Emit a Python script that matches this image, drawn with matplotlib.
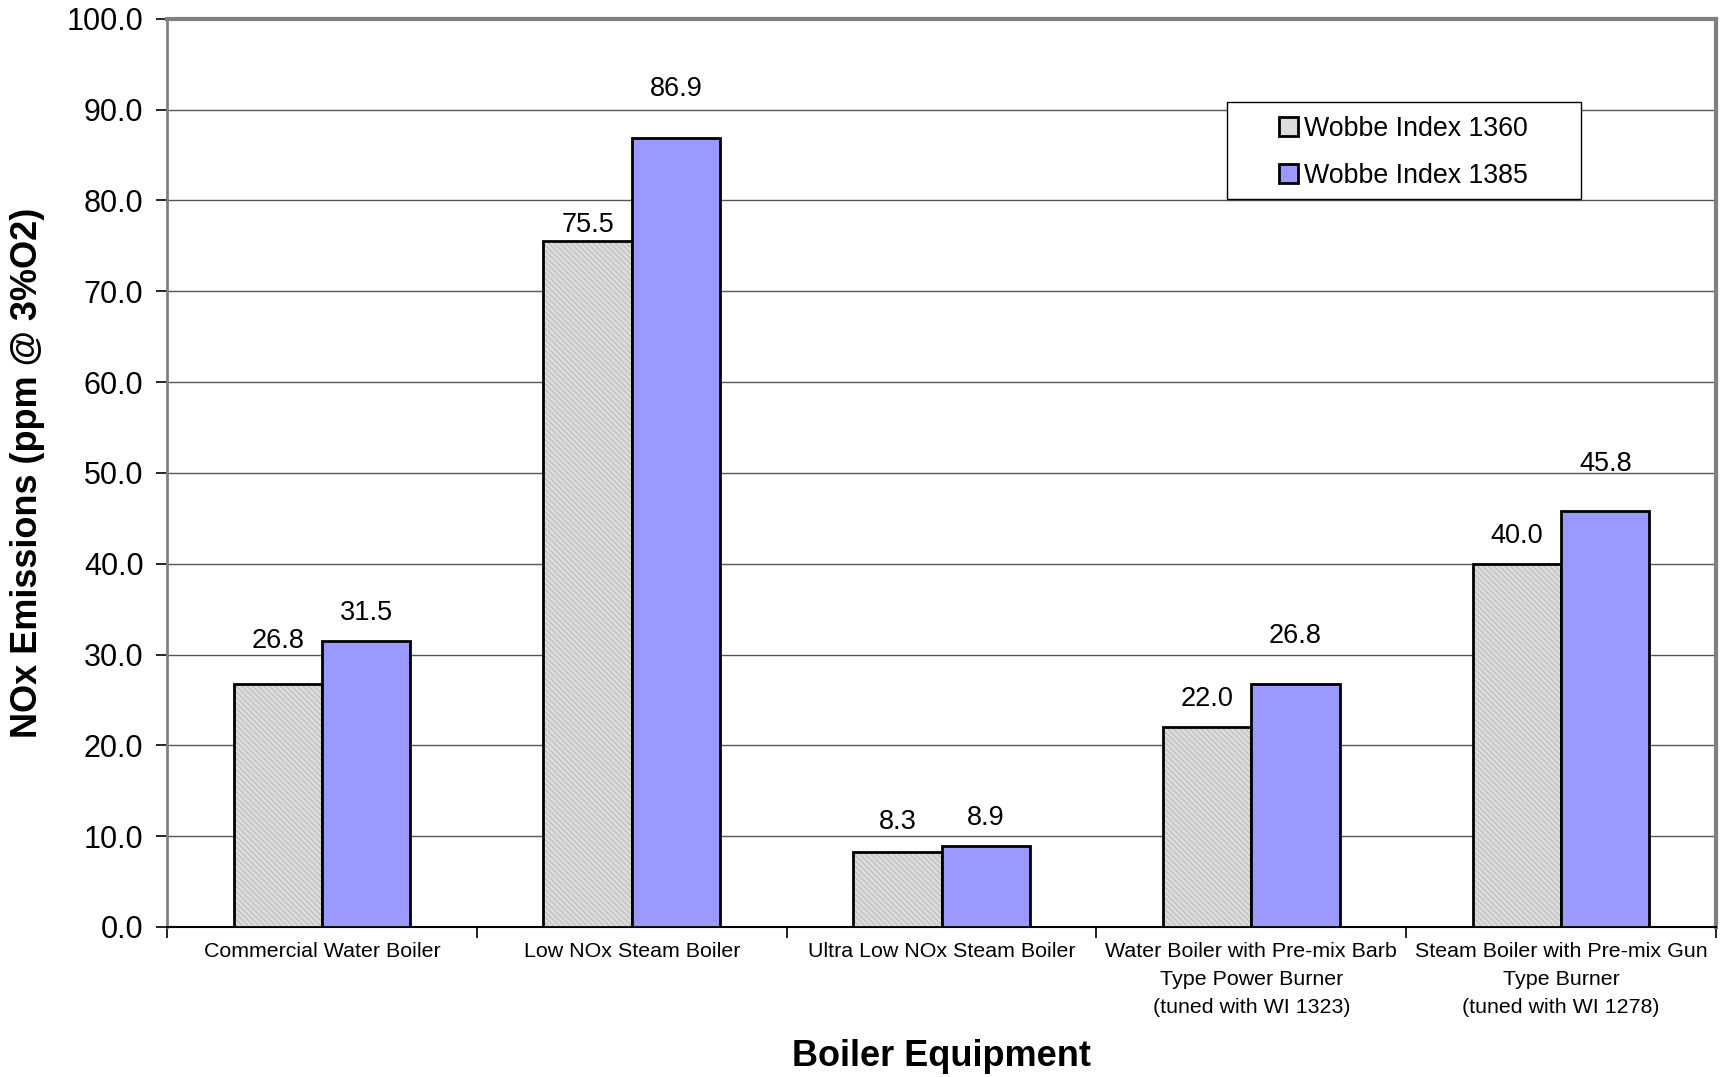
import matplotlib.pyplot as plt
import numpy as np
from matplotlib.patches import Patch, Rectangle

plt.rcParams['font.family'] = ['Liberation Sans', 'DejaVu Sans']
plt.rcParams['hatch.linewidth'] = 0.8

# NOx results per boiler type at two Wobbe index settings
categories = [
    "Commercial Water Boiler",
    "Low NOx Steam Boiler",
    "Ultra Low NOx Steam Boiler",
    "Water Boiler with Pre-mix Barb\nType Power Burner\n(tuned with WI 1323)",
    "Steam Boiler with Pre-mix Gun\nType Burner\n(tuned with WI 1278)",
]
wi_1360 = [26.8, 75.5, 8.3, 22.0, 40.0]
wi_1385 = [31.5, 86.9, 8.9, 26.8, 45.8]
series_names = ["Wobbe Index 1360", "Wobbe Index 1385"]

# vertical lift of each value label above its bar (points)
lift_1360 = [31, 12, 21, 20, 20]
lift_1385 = [20, 35, 20, 34, 34]

GREY = '#dcdcdc'
HATCH = '#bdbdbd'
BLUE = '#9999ff'

fig = plt.figure(figsize=(17.24, 10.77), dpi=100)
ax = fig.add_axes([0.0969, 0.1393, 0.8985, 0.8433])

x = np.arange(len(categories))
w = 0.285

# hatched light grey fill, then a black outline on top
ax.bar(x - w / 2, wi_1360, w, align='center', color=GREY,
       edgecolor=HATCH, hatch='\\\\\\\\\\\\', linewidth=0, zorder=3)
ax.bar(x - w / 2, wi_1360, w, align='center', fill=False,
       edgecolor='black', linewidth=2, zorder=4)
ax.bar(x + w / 2, wi_1385, w, align='center', color=BLUE,
       edgecolor='black', linewidth=2, zorder=4)

for xi, v, d in zip(x - w / 2, wi_1360, lift_1360):
    ax.annotate(f"{v:.1f}", (xi, v), xytext=(0, d), textcoords='offset points',
                ha='center', va='center', fontsize=19.5)
for xi, v, d in zip(x + w / 2, wi_1385, lift_1385):
    ax.annotate(f"{v:.1f}", (xi, v), xytext=(0, d), textcoords='offset points',
                ha='center', va='center', fontsize=19.5)

ax.set_xlim(-0.5, len(categories) - 0.5)
ax.set_ylim(0, 100)
ax.set_yticks(np.arange(0, 101, 10))
ax.set_yticklabels([f"{t:.1f}" for t in range(0, 101, 10)], fontsize=22)
ax.set_xticks(x)
ax.set_xticklabels(categories, fontsize=15.4, linespacing=1.6, va='top')
ax.set_xticks(np.arange(-0.5, len(categories), 1), minor=True)
ax.tick_params(axis='x', which='major', length=0, pad=11)
ax.tick_params(axis='x', which='minor', length=8, width=1.2, direction='out')
ax.tick_params(axis='y', length=8, width=1.2, direction='out', pad=9)

ax.yaxis.grid(True, color='#555555', linewidth=1, zorder=0)
ax.set_axisbelow(True)

for side in ['left', 'top', 'right']:
    ax.spines[side].set_color('#808080')
ax.spines['left'].set_linewidth(2)
ax.spines['top'].set_linewidth(3)
ax.spines['right'].set_linewidth(3)
ax.spines['bottom'].set_color('black')
ax.spines['bottom'].set_linewidth(1.5)

ax.set_xlabel("Boiler Equipment", fontsize=26, fontweight='bold', labelpad=16)
ax.set_ylabel("NOx Emissions (ppm @ 3%O2)", fontsize=26, fontweight='bold')
ax.yaxis.set_label_coords(-0.0787, 0.5)

# legend box drawn separately so it can be wider than its contents
box = Rectangle((0.684, 0.8015), 0.2286, 0.1065, transform=ax.transAxes,
                facecolor='white', edgecolor='black', linewidth=1, zorder=9)
ax.add_patch(box)
handles = [
    Patch(facecolor=GREY, edgecolor='black', linewidth=2),
    Patch(facecolor=BLUE, edgecolor='black', linewidth=2),
]
leg = ax.legend(handles, series_names, loc='center',
                bbox_to_anchor=(0.7983, 0.8528), fontsize=19.3, frameon=False,
                handlelength=0.7, handleheight=0.7, handletextpad=0.25,
                labelspacing=0.8, borderpad=0, borderaxespad=0)
leg.set_zorder(10)

fig.savefig("out.png", dpi=100)
